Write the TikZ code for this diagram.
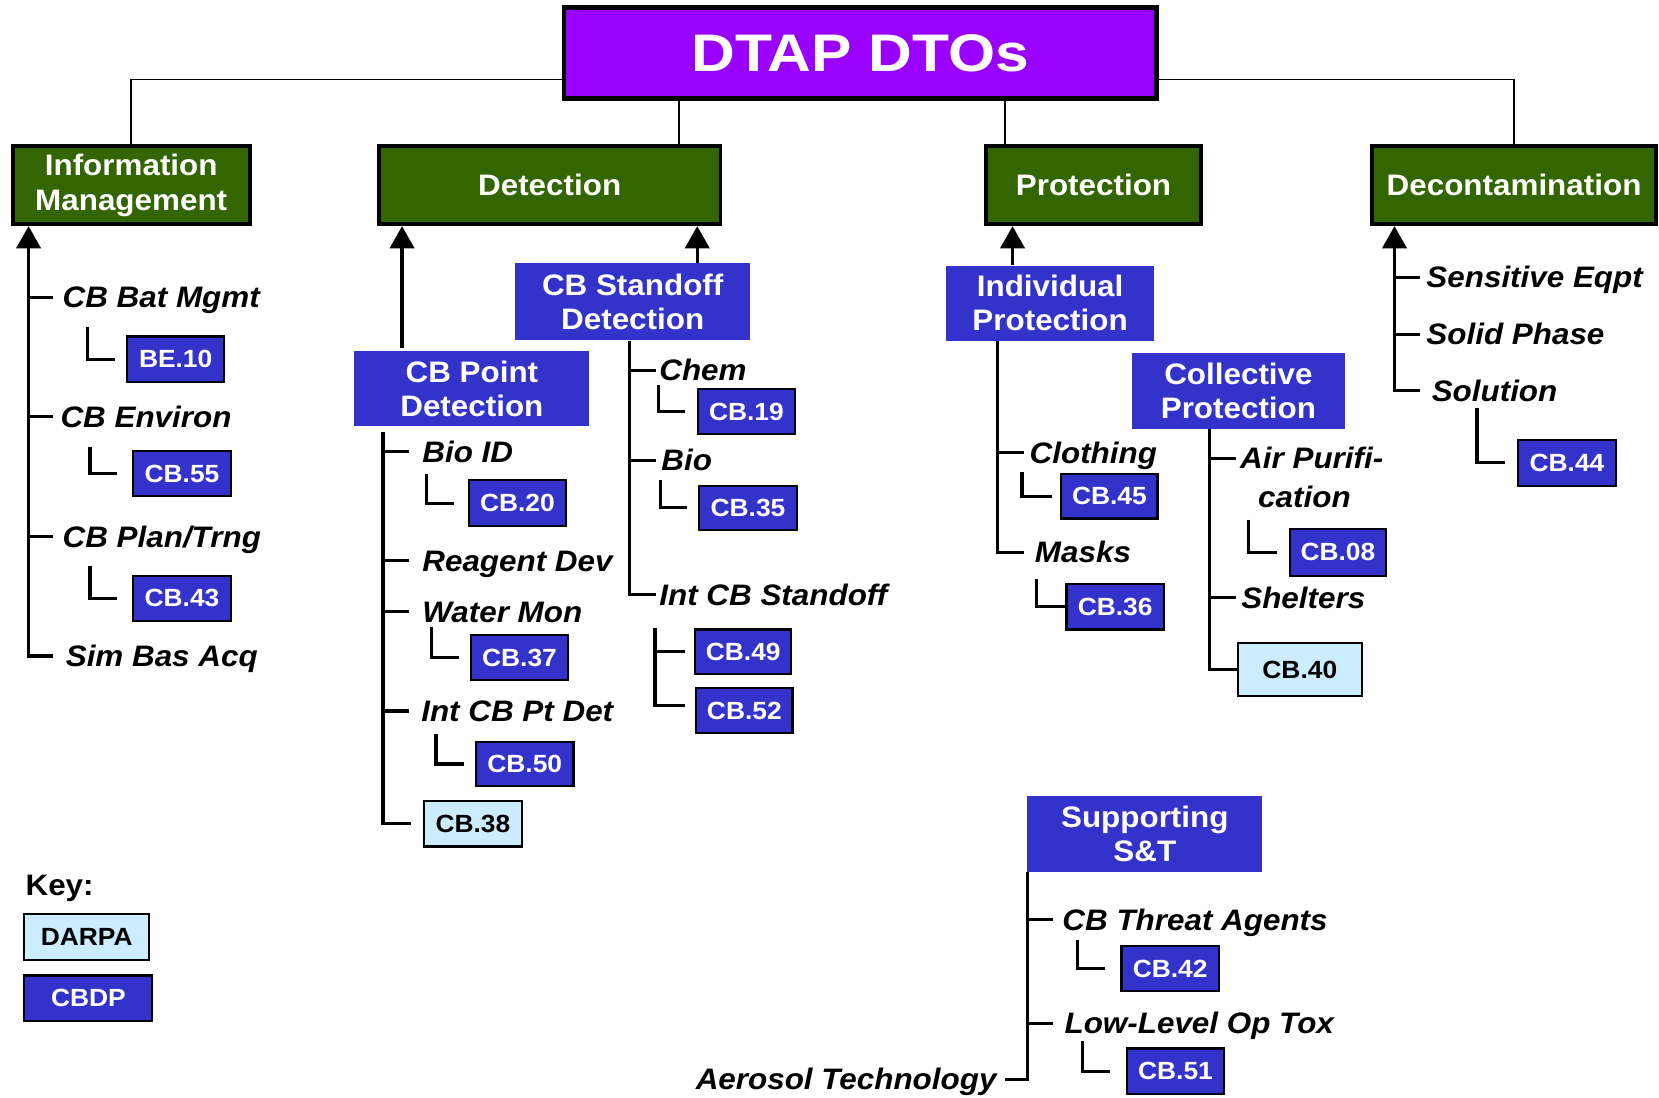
\documentclass[tikz,border=0pt]{standalone}
\usepackage{fontspec}
\setmainfont{Liberation Sans}[FakeStretch=1.06]
\usetikzlibrary{arrows.meta}
\definecolor{dtpurple}{HTML}{9900FF}
\definecolor{hdrgreen}{HTML}{336600}
\definecolor{cbblue}{HTML}{3333CC}
\definecolor{darpablue}{HTML}{CCECFF}
\begin{document}
\begin{tikzpicture}[x=1pt,y=-1pt,
  titlebox/.style={draw=black, line width=4pt, fill=dtpurple, text=white,
    font=\fontsize{50}{55}\selectfont\bfseries, minimum width=560pt, minimum height=86pt, inner sep=0pt},
  hdr/.style={draw=black, line width=3.5pt, fill=hdrgreen, text=white, align=center,
    font=\fontsize{28}{33}\selectfont\bfseries, minimum height=74pt, inner sep=0pt},
  cat/.style={fill=cbblue, text=white, align=center,
    font=\fontsize{28}{32}\selectfont\bfseries, inner sep=0pt},
  code/.style={draw=black, line width=2pt, fill=cbblue, text=white,
    font=\fontsize{23.5}{28}\selectfont\bfseries, minimum width=92pt, minimum height=43pt, inner sep=0pt},
  darpa/.style={code, fill=darpablue, text=black},
  item/.style={font=\fontsize{28}{33}\selectfont\bfseries\itshape, inner sep=0pt,
    text height=20pt, text depth=0pt, anchor=west},
  link/.style={line width=1.5pt},
  trunk/.style={line width=3pt},
  up/.style={trunk, -{Triangle[width=23pt,length=21pt]}},
]
\useasboundingbox (0,0) rectangle (1568,1037);

% ---- title and the four area headers
\node[titlebox] (title) at (813,50) {\scalebox{1.08}[1]{DTAP DTOs}};
\node[hdr, minimum width=224pt] (im) at (124,175) {\raisebox{-2pt}{Information}\\\raisebox{-2pt}{Management}};
\node[hdr, minimum width=323pt] (det) at (519.5,175) {\raisebox{-2pt}{Detection}};
\node[hdr, minimum width=203pt] (prot) at (1033.5,175) {\raisebox{-2pt}{Protection}};
\node[hdr, minimum width=268pt] (dec) at (1431,175) {\raisebox{-2pt}{Decontamination}};

\coordinate (hl) at (533,75);
\coordinate (dx) at (642,0);
\coordinate (px) at (950,0);
\draw[link] (title.west |- hl) -| (im.north);
\draw[link] (title.east |- hl) -| (dec.north);
\draw[link] (title.south -| dx) -- (det.north -| dx);
\draw[link] (title.south -| px) -- (prot.north -| px);

% ---- Information Management
\node[item] (cbbat) at (59,281) {CB Bat Mgmt};
\node[item] (cbenv) at (57,394) {CB Environ};
\node[item] (cbplan) at (59,507) {CB Plan/Trng};
\node[item] (sba) at (62,620) {Sim Bas Acq};
\node[code] (be10) at (166,339.5) {BE.10};
\node[code] (cb55) at (172,447.5) {CB.55};
\node[code] (cb43) at (172,565.5) {CB.43};

\coordinate (imT) at (27,620);
\draw[up] ([xshift=-12pt]sba.west) -- (imT) -- (imT |- im.south);
\foreach \n in {cbbat,cbenv,cbplan} \draw[trunk] (\n.west -| imT) -- ++(23pt,0pt);
\coordinate (ebe10) at (83,309);
\coordinate (ecb55) at (85,422);
\coordinate (ecb43) at (85,535);
\draw[trunk] (ebe10) |- ([xshift=-10pt]be10.west);
\draw[trunk] (ecb55) |- ([xshift=-14pt]cb55.west);
\draw[trunk] (ecb43) |- ([xshift=-14pt]cb43.west);

% ---- Detection
\node[cat, minimum width=222pt, minimum height=72pt] (sod) at (598,285) {CB Standoff\\Detection};
\node[cat, minimum width=222pt, minimum height=71pt] (ptd) at (446,367.5) {CB Point\\Detection};

\coordinate (dL) at (380,329);
\coordinate (dR) at (659,0);
\draw[up] (dL) -- (dL |- det.south);
\draw[up] (sod.north -| dR) -- (det.south -| dR);

% point detection branch
\node[item] (bioid) at (399,427) {Bio ID};
\node[item] (reag) at (399,530) {Reagent Dev};
\node[item] (water) at (399,578) {Water Mon};
\node[item] (intpt) at (398,672) {Int CB Pt Det};
\node[code] (cb20) at (489,475.5) {CB.20};
\node[code] (cb37) at (491,621.5) {CB.37};
\node[code, minimum height=42pt] (cb50) at (496,722) {CB.50};
\node[darpa] (cb38) at (447,778.5) {CB.38};

\coordinate (ptT) at (362,408);
\draw[trunk] (ptT) |- ([xshift=-12pt]cb38.west);
\foreach \n in {bioid,reag,water,intpt} \draw[trunk] (\n.west -| ptT) -- ++(25pt,0pt);
\coordinate (ecb20) at (403,448);
\coordinate (ecb37) at (408,593);
\coordinate (ecb50) at (412,694);
\draw[trunk] (ecb20) |- ([xshift=-13pt]cb20.west);
\draw[trunk] (ecb37) |- ([xshift=-10pt]cb37.west);
\draw[trunk] (ecb50) |- ([xshift=-10pt]cb50.west);

% standoff detection branch
\node[item] (chem) at (623,350) {Chem};
\node[item] (bio) at (625,435) {Bio};
\node[item] (intso) at (623,562) {Int CB Standoff};
\node[code, minimum width=91pt, minimum height=42pt] (cb19) at (705.5,389) {CB.19};
\node[code, minimum height=42pt] (cb35) at (707,480) {CB.35};
\node[code, minimum width=91pt, minimum height=42pt] (cb49) at (702.5,616) {CB.49};
\node[code, minimum width=91pt, minimum height=42pt] (cb52) at (703.5,671.5) {CB.52};

\coordinate (soT) at (595,322);
\draw[trunk] (soT) |- ([xshift=-3pt]intso.west);
\foreach \n in {chem,bio} \draw[trunk] (\n.west -| soT) -- ++(25pt,0pt);
\coordinate (ecb19) at (622,364);
\coordinate (ecb35) at (624,454);
\draw[trunk] (ecb19) |- ([xshift=-12pt]cb19.west);
\draw[trunk] (ecb35) |- ([xshift=-11pt]cb35.west);
\coordinate (brT) at (619,594);
\draw[trunk] (brT) |- ([xshift=-10pt,yshift=5pt]cb52.west);
\draw[trunk] (cb49.west -| brT) -- ([xshift=-9pt]cb49.west);

% ---- Protection
\node[cat, minimum width=197pt, minimum height=71pt] (ind) at (992.5,286.5) {Individual\\Protection};
\node[cat, minimum width=201pt, minimum height=71pt] (col) at (1170.5,369.5) {Collective\\Protection};

\coordinate (pX) at (957,0);
\draw[up] (ind.north -| pX) -- (prot.south -| pX);

\node[item] (cloth) at (973,428) {Clothing};
\node[item] (masks) at (978,522) {Masks};
\node[code, minimum width=91pt, minimum height=42pt] (cb45) at (1048.5,469) {CB.45};
\node[code] (cb36) at (1054,573.5) {CB.36};

\coordinate (inT) at (943,322);
\draw[trunk] (inT) |- ([xshift=-10pt]masks.west);
\draw[trunk] (cloth.west -| inT) -- ++(25pt,0pt);
\coordinate (ecb45) at (966,446);
\coordinate (ecb36) at (980,547);
\draw[trunk] (ecb45) |- ([xshift=-8pt]cb45.west);
\draw[trunk] (ecb36) |- (cb36.west);

\node[item] (airp) at (1172,433) {Air Purifi-};
\node[item] (airc) at (1189,470) {cation};
\node[item] (shelt) at (1173,565) {Shelters};
\node[code, minimum width=91pt, minimum height=44pt] (cb08) at (1264.5,522) {CB.08};
\node[darpa, minimum width=117pt, minimum height=50pt] (cb40) at (1228.5,633) {CB.40};

\coordinate (coT) at (1143,405);
\draw[trunk] (coT) |- (cb40.west);
\foreach \n in {airp,shelt} \draw[trunk] (\n.west -| coT) -- ++(25pt,0pt);
\coordinate (ecb08) at (1180,491);
\draw[trunk] (ecb08) |- ([xshift=-11pt]cb08.west);

% ---- Decontamination
\node[item] (sens) at (1348,262) {Sensitive Eqpt};
\node[item] (solid) at (1348,316) {Solid Phase};
\node[item] (soln) at (1353,369) {Solution};
\node[code] (cb44) at (1481,437.5) {CB.44};

\coordinate (deT) at (1318,369);
\draw[up] ([xshift=-11pt]soln.west) -- (deT) -- (deT |- dec.south);
\foreach \n in {sens,solid} \draw[trunk] (\n.west -| deT) -- ++(24pt,0pt);
\coordinate (ecb44) at (1396,386);
\draw[trunk] (ecb44) |- ([xshift=-12pt]cb44.west);

% ---- Supporting S&T
\node[cat, minimum width=222pt, minimum height=72pt] (sup) at (1082,788) {Supporting\\S\&T};
\node[item] (threat) at (1004,869) {CB Threat Agents};
\node[item] (lowlv) at (1006,967) {Low-Level Op Tox};
\node[item, anchor=east] (aero) at (942,1020) {Aerosol Technology};
\node[code] (cb42) at (1106,915.5) {CB.42};
\node[code] (cb51) at (1111,1012.5) {CB.51};

\coordinate (suT) at (971,824);
\draw[trunk] (suT) |- ([xshift=8pt]aero.east);
\foreach \n in {threat,lowlv} \draw[trunk] (\n.west -| suT) -- ++(24pt,0pt);
\coordinate (ecb42) at (1018,888);
\coordinate (ecb51) at (1023,984);
\draw[trunk] (ecb42) |- ([xshift=-15pt]cb42.west);
\draw[trunk] (ecb51) |- ([xshift=-15pt]cb51.west);

% ---- key
\node[font=\fontsize{28}{33}\selectfont\bfseries, inner sep=0pt, text height=20pt, text depth=0pt, anchor=west] (key) at (24,836) {Key:};
\node[darpa, minimum width=118pt] (kdarpa) at (82,885.5) {DARPA};
\node[code, minimum width=121pt] (kcbdp) at (83.5,943.5) {CBDP};
\end{tikzpicture}
\end{document}
